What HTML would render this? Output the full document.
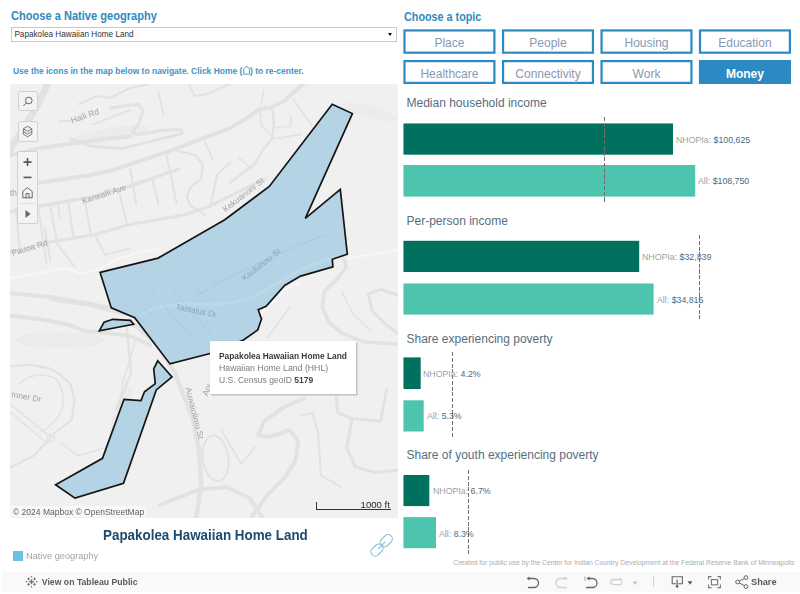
<!DOCTYPE html>
<html><head><meta charset="utf-8">
<style>
*{margin:0;padding:0;box-sizing:border-box}
html,body{width:800px;height:594px;overflow:hidden;background:#fff;font-family:"Liberation Sans",sans-serif}
.t{position:absolute;white-space:nowrap;transform-origin:0 0}
.btn{position:absolute;width:92px;height:24px;color:#8799b2;font-size:12px;line-height:28px;text-align:center}
.bar{position:absolute;left:403.5px}
.dk{background:#00705f}
.lt{background:#4cc4ae}
.dash{position:absolute;width:1.1px;background:repeating-linear-gradient(to bottom,#707070 0 4.1px,transparent 4.1px 5.75px)}
.ttl{color:#566e80;font-size:12px}
.lab{color:#a0a0a0;font-size:9.6px}
.lab b{font-weight:normal;color:#4b6a84}
</style></head><body>

<!-- left header -->
<div class="t" style="left:11px;top:10px;font-size:12.4px;line-height:12.4px;font-weight:bold;color:#2f8ac0;transform:scaleX(0.894)">Choose a Native geography</div>
<div style="position:absolute;left:11px;top:27px;width:386px;height:15px;border:1px solid #c8c8c8;background:#fff"></div>
<div class="t" style="left:14.4px;top:31.2px;font-size:8.2px;line-height:8.2px;color:#333">Papakolea Hawaiian Home Land</div>
<div style="position:absolute;left:388px;top:33px;width:0;height:0;border-left:2.5px solid transparent;border-right:2.5px solid transparent;border-top:3px solid #111"></div>

<div class="t" style="left:13.4px;top:65px;font-size:9px;line-height:9px;font-weight:bold;color:#4393c8;transform:scaleX(0.942)">Use the icons in the map below to navigate. Click Home (<svg width="8" height="10" viewBox="0 0 8 10" style="vertical-align:-1px"><path d="M1,9.2 V4 L4,1 L7,4 V9.2 Z" fill="none" stroke="#3a8fc2" stroke-width="0.9"/></svg>) to re-center.</div>

<!-- right header -->
<div class="t" style="left:404px;top:11px;font-size:12.4px;line-height:12.4px;font-weight:bold;color:#2f8ac0;transform:scaleX(0.871)">Choose a topic</div>
<svg width="800" height="100" style="position:absolute;left:0;top:0"><rect x="404.50" y="30.45" width="89.90" height="22.25" fill="#fff" stroke="#2c8ac3" stroke-width="2.2"/><rect x="503.05" y="30.45" width="89.90" height="22.25" fill="#fff" stroke="#2c8ac3" stroke-width="2.2"/><rect x="601.55" y="30.45" width="89.90" height="22.25" fill="#fff" stroke="#2c8ac3" stroke-width="2.2"/><rect x="700.00" y="30.45" width="89.90" height="22.25" fill="#fff" stroke="#2c8ac3" stroke-width="2.2"/><rect x="404.50" y="61.10" width="89.90" height="21.80" fill="#fff" stroke="#2c8ac3" stroke-width="2.2"/><rect x="503.05" y="61.10" width="89.90" height="21.80" fill="#fff" stroke="#2c8ac3" stroke-width="2.2"/><rect x="601.55" y="61.10" width="89.90" height="21.80" fill="#fff" stroke="#2c8ac3" stroke-width="2.2"/><rect x="698.9" y="60.0" width="92.1" height="24.0" fill="#2c8ac3"/></svg>
<div class="btn" style="left:403.45px;top:29.35px;height:24.45px">Place</div>
<div class="btn" style="left:502.00px;top:29.35px;height:24.45px">People</div>
<div class="btn" style="left:600.50px;top:29.35px;height:24.45px">Housing</div>
<div class="btn" style="left:698.95px;top:29.35px;height:24.45px">Education</div>
<div class="btn" style="left:403.45px;top:60.00px;height:24.0px">Healthcare</div>
<div class="btn" style="left:502.00px;top:60.00px;height:24.0px">Connectivity</div>
<div class="btn" style="left:600.50px;top:60.00px;height:24.0px">Work</div>
<div class="btn" style="left:698.95px;top:60.00px;height:24.0px;color:#fff;font-weight:bold">Money</div>

<!-- charts -->
<svg width="800" height="594" style="position:absolute;left:0;top:0"><rect x="403.45" y="123.45" width="269.55" height="31.22" fill="#00705f"/><rect x="403.45" y="165.0" width="291.75" height="31.60" fill="#4cc4ae"/><rect x="403.45" y="240.8" width="235.75" height="31.20" fill="#00705f"/><rect x="403.45" y="283.5" width="250.15" height="31.10" fill="#4cc4ae"/><rect x="403.45" y="357.4" width="17.25" height="31.60" fill="#00705f"/><rect x="403.45" y="400.3" width="20.25" height="31.20" fill="#4cc4ae"/><rect x="403.45" y="475.0" width="25.85" height="31.10" fill="#00705f"/><rect x="403.45" y="517.1" width="32.55" height="31.10" fill="#4cc4ae"/></svg>
<div class="t ttl" style="left:406.5px;top:96.8px;line-height:12px">Median household income</div>
<div class="dash" style="left:604.4px;top:117.3px;height:84.6px"></div>
<div class="t lab" style="left:676.2px;top:134.6px;line-height:9.6px;transform:scaleX(0.915)">NHOPIa: <b>$100,625</b></div>
<div class="t lab" style="left:698.2px;top:176.4px;line-height:9.6px;transform:scaleX(0.915)">All: <b>$108,750</b></div>

<div class="t ttl" style="left:406.5px;top:214.8px;line-height:12px">Per-person income</div>
<div class="dash" style="left:699px;top:234.8px;height:84.6px"></div>
<div class="t lab" style="left:642.4px;top:252.3px;line-height:9.6px;transform:scaleX(0.915)">NHOPIa: <b>$32,839</b></div>
<div class="t lab" style="left:656.6px;top:294.9px;line-height:9.6px;transform:scaleX(0.915)">All: <b>$34,815</b></div>

<div class="t ttl" style="left:406.5px;top:333px;line-height:12px">Share experiencing poverty</div>
<div class="dash" style="left:451.8px;top:352.3px;height:84.6px"></div>
<div class="t lab" style="left:423.3px;top:368.9px;line-height:9.6px;transform:scaleX(0.915)">NHOPIa: <b>4.2%</b></div>
<div class="t lab" style="left:426.9px;top:411.4px;line-height:9.6px;transform:scaleX(0.915)">All: <b>5.3%</b></div>

<div class="t ttl" style="left:406.5px;top:449.4px;line-height:12px">Share of youth experiencing poverty</div>
<div class="dash" style="left:467.5px;top:469.8px;height:84.6px"></div>
<div class="t lab" style="left:432.8px;top:486.4px;line-height:9.6px;transform:scaleX(0.915)">NHOPIa: <b>6.7%</b></div>
<div class="t lab" style="left:438.8px;top:528.5px;line-height:9.6px;transform:scaleX(0.915)">All: <b>8.3%</b></div>

<div class="t" style="left:453.3px;top:559.5px;font-size:6.8px;line-height:6.8px;color:#adadad">Created for public use by the Center for Indian Country Development at the Federal Reserve Bank of Minneapolis</div>

<!-- map -->
<div id="map" style="position:absolute;left:10px;top:84px;width:388px;height:434px;background:#f0f0f0;overflow:hidden">
<svg width="388" height="434" viewBox="10 84 388 434" style="position:absolute;left:0;top:0">
 <g fill="#e8e8e8" opacity="0.6">
  <ellipse cx="60" cy="340" rx="45" ry="8"/>
  <ellipse cx="110" cy="135" rx="40" ry="7" transform="rotate(-10 110 135)"/>
  <ellipse cx="370" cy="112" rx="28" ry="6" transform="rotate(15 370 112)"/>
  <ellipse cx="120" cy="420" rx="8" ry="35" transform="rotate(15 120 420)"/>
 </g>
 <g fill="none" stroke="#f7f7f7" stroke-linecap="round" stroke-linejoin="round">
  <path stroke-width="2" d="M8,278.8 L56.3,269.8 Q62,267 68,269 L80.4,273.5 Q90,272 98.9,268.9 L121,257.8 L140,252.2 L160,249"/>
  <path stroke-width="2" d="M346.3,258.8 L398,250"/>
  <path stroke-width="2" d="M176,347 L190,340 L245,326 L265,310 L285,290 L300,282"/>
 </g>
 <g fill="none" stroke="#e2e2e2" stroke-linecap="round" stroke-linejoin="round">
  <path stroke-width="7" d="M48.4,82 L38.3,104 L22,130.5 L8,153"/>
  <path stroke-width="4" d="M8,156 L38.3,148.6 L78.7,142.6 L110,138 L130,136.5"/>
  <path stroke-width="4" d="M38.3,183 L90.8,175 L110,170.9 L170.6,150.7 L230,128.1 L251,115.5 L259.4,109.2 L272,107.1 L284.6,100.8 L305.6,82"/>
  <path stroke-width="3" d="M110,108.2 L122,106.2 L138.3,104.2 L143.3,110.3 L138.3,124.4 L132.2,132.5 L138.3,134.5 L160.5,130.5 L180.7,129.5 L182.7,133.5 L170.6,136.5 L146.4,142.6 L122,148.6 L90,146 L70.6,138.5"/>
  <path stroke-width="2" d="M78.7,104.2 L96.9,96.1 L110,98 L130,88 L150,84 M92.8,124.4 L130,110.3 M58.5,121.4 L70.6,120.4 M158.5,92 L163.5,114.3"/>
  <path stroke-width="3.5" d="M8,212.3 L38.3,206.2 L86.8,198.1 L130,186 L150.4,179 L178.7,168.8"/>
  <path stroke-width="2" d="M130.2,168.8 L136.3,204 M152.4,179 L158.5,204 M166.6,154.7 L176.7,204"/>
  <path stroke-width="2.2" d="M176.7,150.7 L194.8,154.7 L203,164.8 L201,179 L190.8,187 L186.8,197 L190.8,206 L205,215"/>
  <path stroke-width="2" d="M205,142.6 L213,159.8 M188.8,84 L194.8,96 L207,94 L230,84 M230,162.8 L217,175 L211,204"/>
  <path stroke-width="3" d="M8,252.7 L46.4,242.6 L94.8,234.5 L130,224.4 L184.5,215 L210,206 L265.5,178.6"/>
  <path stroke-width="2" d="M38.3,208.2 L46.4,262.8 M50.4,206.2 L56.5,240.6 M58.5,206.2 L59.5,218.3 M68.6,204.2 L73.6,238.5 M84.7,200.2 L90.8,234.5 M119,192 L127.2,224.4 M44.3,226.4 L50.4,260.8 M16,208.2 L20,252.7 M56.5,242.6 L74.6,266.8 M94.8,234.5 L105,254.7 L130,248.6"/>
  <path stroke-width="4" d="M8,293 L50.4,297 L90.8,304 L130,312 L160,325"/>
  <path stroke-width="4" d="M8,315.2 L40.3,319.2 L66.6,324.2 L86.8,331.3 L101,332.3 L130,336 L150,345"/>
  <path stroke-width="2" d="M50.4,300 L90.8,306 L130,316.2"/>
  <path stroke-width="2.2" d="M8,366.7 L30.2,364.6 L50.4,368.7 L60.5,374.7 L70.6,384.8 L74.6,401 L71.6,419.9 L53.7,433.8 L33.9,455.7 L8,468.6"/>
  <path stroke-width="1.6" d="M20,383 Q35,370 55,378 Q66,390 62,410 Q55,425 40,432 M10,404 L51.7,437.8 M10,412 L48,444 M61.7,443.7 L77.6,455.7 L105.4,447.7 L117.4,429.8 L123,380.8 L130,360.6 L135,340"/>
  <circle stroke-width="1.6" cx="50.8" cy="437.8" r="3.6"/>
  <path stroke-width="4.5" d="M131,322 L157,344 L175,373 L181.4,390 L192.8,418.5 L198.5,447 L201.3,484 L198.5,504 L195.6,520"/>
  <path stroke-width="2.5" d="M127,329 L131,373 L116,410"/>
  <path stroke-width="4" d="M160,505 L198.5,489.7 L227,486.9 L249.8,498.3 L264,520"/>
  <path stroke-width="4" d="M303.9,398.5 L284,407 L264,421.3 L258.3,435.6 L269.7,437 L289.7,430 L298.2,441.3 L295.4,461.2 L284,478.3 L266.9,495.4 L249.8,520"/>
  <path stroke-width="2" d="M301,415.6 L312.5,412.8 L318.1,432.7 L321,475.5 L341,486.9"/>
  <path stroke-width="3" d="M335.2,390 L338,412.8 L352.3,418.5 L380.8,421.3 L386.5,390 M352.3,418.5 L346.6,447 L355.2,466.9 L375.1,472.6 L400,469.8"/>
  <ellipse stroke-width="2" cx="215.6" cy="458.4" rx="12.8" ry="22.8" transform="rotate(-8 215.6 458.4)"/>
  <path stroke-width="1.6" d="M221.3,429.9 L241.2,464 L255.5,447"/>
  <path stroke-width="3.5" d="M344,258.8 L346.3,267.5 L337.5,278.4 L324.4,291.6 L322.2,306.9 L328.8,322.2 L341.9,333.2 L363.8,341.9 L400,344"/>
  <path stroke-width="3" d="M368.2,293.8 L372.5,311.3 L385.7,324.4 L400,335.3 M368.2,293.8 L381.3,289.4 L400,296"/>
  <path stroke-width="1.6" d="M289.4,308 L267.5,337.5 M342,291.6 L352.8,313.5 L370.4,331"/>
  <path stroke-width="2.5" d="M272,107 L274,121.8 L272,138.6 L261.5,151.2 L255.2,163.8 L230,182.7"/>
  <path stroke-width="1.6" d="M259.4,109.2 L261.5,126 L274,138.6 M263.6,90.3 L261.5,105 M293,98.7 L312,126 M276,138.6 L301.4,134.4 M274,128 L291,126 L291,115.5 M238.4,157.5 L251,168"/>
 </g>
</svg>
<svg width="388" height="434" viewBox="10 84 388 434" style="position:absolute;left:0;top:0">
 <defs><clipPath id="pc"><path d="M332.2,104.3 L352.4,113.6 L305.3,218.3 L340.3,189.4 L347.3,254.2 L332.3,259.3 L332.9,266.8 L300.6,276.1 L284.6,285.4 L266.1,306.4 L258.2,309.8 L261.5,319 L257.7,330 L243.4,340 L215,352.2 L170,363.9 L134.7,317.7 L111.3,307.9 L100.1,272.4 L158.1,258.1 L224.8,219.7 L269.3,186.4 Z"/></clipPath></defs>
 <g font-family="Liberation Sans" font-size="8.4" fill="#a3a3a3">
  <text transform="translate(72,123.5) rotate(-19.5)">Haili Rd</text>
  <text transform="translate(83,204) rotate(-18)">Kanealii Ave</text>
  <text transform="translate(12.5,256) rotate(-17)">Pauoa Rd</text>
  <text transform="translate(225.5,212.5) rotate(-38)">Kekuanoni St</text>
  <text transform="translate(185.5,388) rotate(76)">Auwaiolimu St</text>
  <text transform="translate(11,397) rotate(10)">Inner Dr</text>
  <text transform="translate(10,196)">th</text>
  <text transform="translate(207.5,396.5) rotate(-68)">Ani</text>
 </g>
 <g fill="#b4d3e5"><path d="M332.2,104.3 L352.4,113.6 L305.3,218.3 L340.3,189.4 L347.3,254.2 L332.3,259.3 L332.9,266.8 L300.6,276.1 L284.6,285.4 L266.1,306.4 L258.2,309.8 L261.5,319 L257.7,330 L243.4,340 L215,352.2 L170,363.9 L134.7,317.7 L111.3,307.9 L100.1,272.4 L158.1,258.1 L224.8,219.7 L269.3,186.4 Z"/><path d="M99.3,330.9 L104.1,322.1 L112.8,319.3 L130.4,320.4 L133.6,324.3 Z"/><path d="M157.7,360.8 L172,376.9 L156.3,389.9 L123.5,483.3 L75,498.1 L55.6,484.7 L102.5,458.3 L124,399.3 L141,400.6 L144.5,391.7 L155.3,383.7 L153.7,368.9 Z"/></g>
 <g fill="none" stroke-linecap="round" clip-path="url(#pc)">
  <path stroke="#bcd9ea" stroke-width="3" d="M140.6,314.4 Q160,304 193.8,303.4 Q231,307 256,295.6 Q275,285 293.8,273.8 Q315,262 340,256"/>
  <path stroke="#a9cadd" stroke-width="1" d="M193.8,297 L225,280 L275,255 L325,234.7 M112.5,291 L156,336 M123.4,287.8 L172,336 M147,286 L190.6,336 M168.8,284.7 L212.5,336 M190.6,281.6 L206,297 M203,269 L217,283"/>
 </g>
 <g font-family="Liberation Sans" font-size="8.2" fill="#89a6b9">
  <text transform="translate(175.5,309.5) rotate(11)">Tantalus Dr</text>
  <text transform="translate(244.5,281) rotate(-38)">Kaululaau St</text>
 </g>
 <g fill="none" stroke="#141414" stroke-width="1.7" stroke-linejoin="miter"><path d="M332.2,104.3 L352.4,113.6 L305.3,218.3 L340.3,189.4 L347.3,254.2 L332.3,259.3 L332.9,266.8 L300.6,276.1 L284.6,285.4 L266.1,306.4 L258.2,309.8 L261.5,319 L257.7,330 L243.4,340 L215,352.2 L170,363.9 L134.7,317.7 L111.3,307.9 L100.1,272.4 L158.1,258.1 L224.8,219.7 L269.3,186.4 Z"/><path d="M99.3,330.9 L104.1,322.1 L112.8,319.3 L130.4,320.4 L133.6,324.3 Z"/><path d="M157.7,360.8 L172,376.9 L156.3,389.9 L123.5,483.3 L75,498.1 L55.6,484.7 L102.5,458.3 L124,399.3 L141,400.6 L144.5,391.7 L155.3,383.7 L153.7,368.9 Z"/></g>
</svg>
<!-- controls -->
<div style="position:absolute;left:7.7px;top:7.4px;width:20px;height:20px;border:1.5px solid #d2d2d2;border-radius:2px;background:#f3f3f3"></div>
<div style="position:absolute;left:7.7px;top:37.2px;width:20px;height:21px;border:1.5px solid #d2d2d2;border-radius:2px;background:#f3f3f3"></div>
<div style="position:absolute;left:7.4px;top:67.4px;width:20.8px;height:72.7px;border:1px solid #d2d2d2;border-radius:2px;background:#f3f3f3"></div>
<svg width="40" height="150" viewBox="10 84 40 150" style="position:absolute;left:0;top:0">
 <g fill="none" stroke="#666" stroke-width="1">
  <circle cx="28.8" cy="100.5" r="3.3"/>
  <path d="M26.4,102.9 L23.4,105.9"/>
 </g>
 <g fill="none" stroke="#7a7a7a" stroke-width="1">
  <path d="M27.6,126.2 L31.8,128.8 L31.8,134.2 L27.6,136.8 L23.4,134.2 L23.4,128.8 Z"/>
  <path d="M23.4,128.8 L27.6,131.4 L31.8,128.8 M23.4,131.5 L27.6,134.1 L31.8,131.5"/>
 </g>
 <g fill="none" stroke="#555" stroke-width="1.6">
  <path d="M23.5,162.1 H31.5 M27.5,158.1 V166.1"/>
  <path d="M23.5,177.4 H31.5"/>
 </g>
 <path d="M22.8,197.8 V191.4 L27.5,187.6 L32.2,191.4 V197.8 Z M26,197.8 V193.6 H29 V197.8" fill="none" stroke="#666" stroke-width="1"/>
 <path d="M20.5,203.5 H34.5" stroke="#dcdcdc" stroke-width="1"/>
 <path d="M25.5,210 L30.5,214 L25.5,218 Z" fill="#666"/>
</svg>
<!-- attribution / scale -->
<div style="position:absolute;left:1px;top:422.4px;width:135px;height:10.4px;background:rgba(255,255,255,.55)"></div><div class="t" style="left:3px;top:424px;font-size:8.5px;line-height:8.5px;color:#5e5e5e">&copy; 2024 Mapbox &copy; OpenStreetMap</div>
<div style="position:absolute;left:306px;top:418px;width:75px;height:8px;border-left:1px solid #333;border-bottom:1.5px solid #333"></div>
<div class="t" style="left:350.6px;top:415.6px;font-size:9.6px;line-height:9.6px;color:#2a2a2a">1000 ft</div>
<!-- tooltip -->
<div style="position:absolute;left:199.8px;top:256.7px;width:146.2px;height:53.1px;background:#fff;box-shadow:1.5px 1.5px 0 #c2c2c2,0 0 1px rgba(0,0,0,.12)"></div>
<div class="t" style="left:209.1px;top:268.2px;font-size:9px;line-height:9px;font-weight:bold;color:#3a3a3a;transform:scaleX(0.93)">Papakolea Hawaiian Home Land</div>
<div class="t" style="left:209.1px;top:279.6px;font-size:9px;line-height:9px;color:#7c7c7c;transform:scaleX(0.97)">Hawaiian Home Land (HHL)</div>
<div class="t" style="left:209.1px;top:291.7px;font-size:9px;line-height:9px;color:#7c7c7c;transform:scaleX(0.947)">U.S. Census geoID <b style="color:#444">5179</b></div>
</div>

<!-- map title & legend -->
<div class="t" style="left:102.8px;top:527.8px;font-size:14.6px;line-height:14.6px;font-weight:bold;color:#1d4a6e;transform:scaleX(0.918)">Papakolea Hawaiian Home Land</div>
<div style="position:absolute;left:12.5px;top:551px;width:10px;height:9.5px;background:#6cc0e6"></div>
<div class="t" style="left:26.2px;top:550.5px;font-size:9.5px;line-height:9.5px;color:#a3a3a3;transform:scaleX(0.97)">Native geography</div>

<!-- toolbar -->
<div style="position:absolute;left:2px;top:572px;width:798px;height:19.6px;background:#f9f9f9"></div>
<svg width="800" height="594" viewBox="0 0 800 594" style="position:absolute;left:0;top:0">
 <g fill="#707070">
  <rect x="30.8" y="579.4" width="1.4" height="4.8"/><rect x="29.1" y="581.1" width="4.8" height="1.4"/>
  <rect x="28.1" y="577.6" width="0.9" height="2.8"/><rect x="27.2" y="578.5" width="2.8" height="0.9"/>
  <rect x="34" y="577.6" width="0.9" height="2.8"/><rect x="33.1" y="578.5" width="2.8" height="0.9"/>
  <rect x="28.1" y="583" width="0.9" height="2.8"/><rect x="27.2" y="583.9" width="2.8" height="0.9"/>
  <rect x="34" y="583" width="0.9" height="2.8"/><rect x="33.1" y="583.9" width="2.8" height="0.9"/>
  <circle cx="31.5" cy="576.7" r="0.8"/><circle cx="31.5" cy="586.8" r="0.8"/>
  <circle cx="26.4" cy="581.7" r="0.8"/><circle cx="36.6" cy="581.7" r="0.8"/>
 </g>
 <g fill="none" stroke-width="1.3" stroke-linecap="round">
  <path d="M528.5,578.5 H534 A4.5,4.5 0 0 1 534,587.5 H528.5" stroke="#666"/>
  <path d="M566,578.5 H560.5 A4.5,4.5 0 0 0 560.5,587.5 H566" stroke="#cfcfcf"/>
  <path d="M588,578.5 H592.5 A4.5,4.5 0 0 1 592.5,587.5 H586.5" stroke="#666"/>
  <path d="M585,577 V580.5" stroke="#aaa" stroke-width="1"/>
  <path d="M621,579.5 H613.5 A2.6,2.6 0 0 0 613.5,584.7 H619.5 A2.6,2.6 0 0 0 622,582" stroke="#d0d0d0"/>
  <path d="M653.5,577 V586.5" stroke="#cfcfcf" stroke-width="1"/>
  <path d="M675.5,583.7 H672.2 V576.8 H682.4 V583.7 H678.7" stroke="#666" stroke-width="1.1"/>
  <path d="M677.1,580 V587" stroke="#555" stroke-width="1.1"/>
  <path d="M708.6,579.5 V576.6 H711.5 M717.5,576.6 H720.4 V579.5 M720.4,584.5 V587.6 H717.5 M711.5,587.6 H708.6 V584.5" stroke="#777" stroke-width="1.1" stroke-linecap="butt"/>
  <rect x="711.4" y="579.6" width="6.2" height="5.2" stroke="#777" stroke-width="1.1"/>
  <path d="M746,577.6 L737.6,582 L746,586.6" stroke="#666" stroke-width="1"/>
 </g>
 <g fill="#f9f9f9" stroke="#666" stroke-width="1">
  <circle cx="746" cy="577.6" r="1.9"/><circle cx="737.6" cy="582" r="1.9"/><circle cx="746" cy="586.6" r="1.9"/>
 </g>
 <g fill="#666">
  <path d="M526.5,578.5 L529.5,576.5 L529.5,580.5 Z"/>
  <path d="M567.5,578.5 L564.5,576.5 L564.5,580.5 Z" fill="#cfcfcf"/>
  <path d="M586.5,578.5 L589.5,576.5 L589.5,580.5 Z"/>
  <path d="M622.5,579.5 L619.8,577.6 L619.8,581.4 Z" fill="#d0d0d0"/>
  <path d="M632.5,581.5 H637.5 L635,585 Z" fill="#c4c4c4"/>
  <path d="M675.2,585.8 H679 L677.1,588 Z" fill="#555"/>
  <path d="M687.6,581.2 H692.4 L690,584.8 Z" fill="#555"/>
 </g>
 <!-- link icon -->
 <g transform="rotate(-45 381.6 545.4)" fill="none" stroke="#93c3dc" stroke-width="1.25">
  <rect x="381.4" y="541.15" width="13.6" height="8.5" rx="4.25"/>
  <rect x="368.2" y="541.15" width="13.6" height="8.5" rx="4.25"/>
  <path d="M376.4,545.4 H386.8"/>
 </g>
</svg>
<div class="t" style="left:41.8px;top:578px;font-size:8.7px;line-height:8.7px;font-weight:bold;color:#5a5a5a">View on Tableau Public</div>
<div class="t" style="left:751px;top:578.2px;font-size:9.2px;line-height:9.2px;font-weight:bold;color:#5a5a5a">Share</div>
</body></html>
